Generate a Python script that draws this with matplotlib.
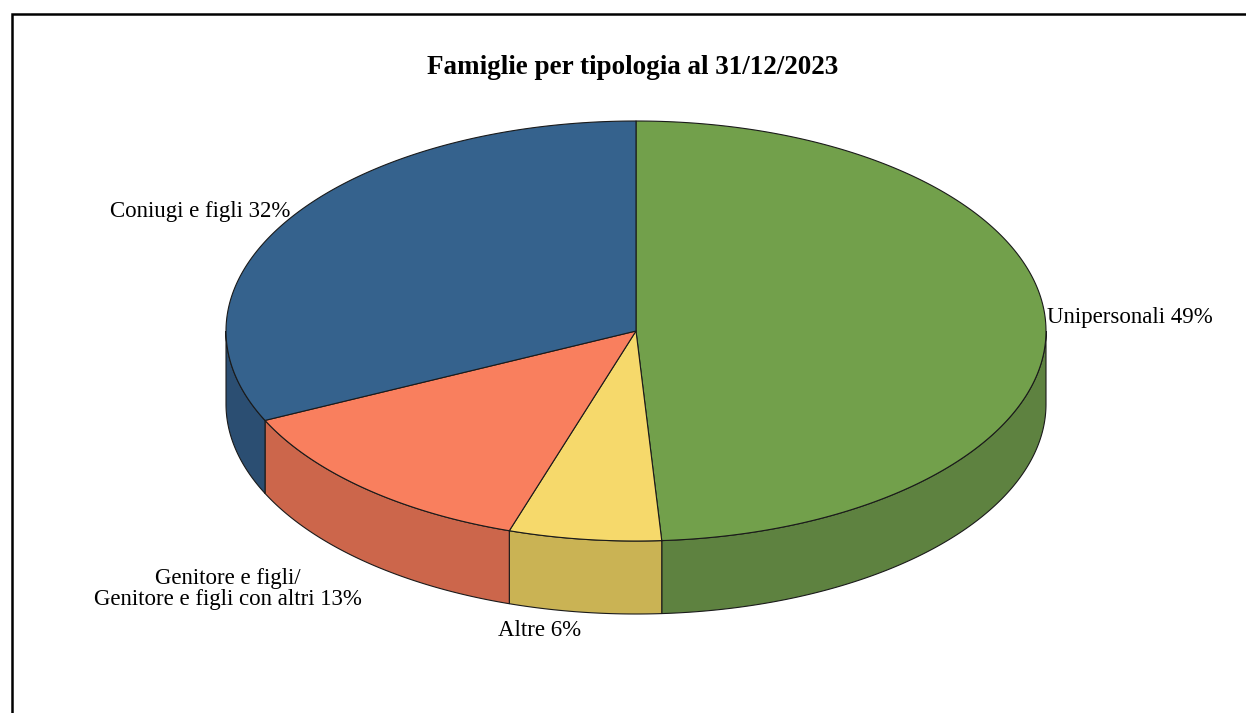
import numpy as np
import matplotlib
matplotlib.use("Agg")
import matplotlib.pyplot as plt
from matplotlib.patches import Polygon

# Household composition on 31/12/2023 (percent)
categories = ["Unipersonali", "Altre", "Genitore e figli/\nGenitore e figli con altri", "Coniugi e figli"]
values = [49, 6, 13, 32]
top_colors = ["#72A04B", "#F6D96B", "#F97F5E", "#35628D"]
side_colors = ["#5E8240", "#CAB354", "#CC664B", "#2B4E72"]
title = "Famiglie per tipologia al 31/12/2023"

W, H = 1246, 713
fig = plt.figure(figsize=(W / 100, H / 100), dpi=100)
ax = fig.add_axes([0, 0, 1, 1])
ax.set_xlim(0, W)
ax.set_ylim(H, 0)
ax.axis("off")

# pie geometry (pixels, y pointing down)
cx, cy = 636, 331
rx, ry = 410, 210
depth = 73
edge = "#1a1a1a"
lw = 0.8


def arc(t0, t1, n=200):
    t = np.radians(np.linspace(t0, t1, n))
    return cx + rx * np.cos(t), cy - ry * np.sin(t)


fracs = np.array(values, dtype=float) / sum(values)
start = 90.0
bounds = []
for f in fracs:
    end = start - f * 360.0
    bounds.append((start, end))
    start = end

# side walls: only the front half (angles between -180 and 0) is visible
for (a0, a1), sc in zip(bounds, side_colors):
    hi, lo = min(a0, 0.0), max(a1, -180.0)
    if hi <= lo:
        continue
    xs, ys = arc(hi, lo)
    pts = np.column_stack([np.r_[xs, xs[::-1]], np.r_[ys, ys[::-1] + depth]])
    ax.add_patch(Polygon(pts, closed=True, facecolor=sc, edgecolor=edge, linewidth=lw, zorder=2))

# top faces
for (a0, a1), tc in zip(bounds, top_colors):
    xs, ys = arc(a0, a1)
    pts = np.column_stack([np.r_[cx, xs], np.r_[cy, ys]])
    ax.add_patch(Polygon(pts, closed=True, facecolor=tc, edgecolor=edge, linewidth=lw, zorder=3,
                         joinstyle="round"))

font = "Liberation Serif"
fs = 16.5
labels = [f"{c} {v}%" for c, v in zip(categories, values)]
ax.text(1047, 318, labels[0], ha="left", va="center", fontsize=fs, family=font)
ax.text(540, 631, labels[1], ha="center", va="center", fontsize=fs, family=font)
ax.text(228, 589, labels[2], ha="center", va="center", fontsize=fs, family=font,
        multialignment="center", linespacing=1.0)
ax.text(290, 211, labels[3], ha="right", va="center", fontsize=fs, family=font)

ax.text(633, 67, title, ha="center", va="center", fontsize=19.5, fontweight="bold", family=font)

# chart frame
ax.plot([12, 12, W + 5], [H + 5, 14, 14], color="black", linewidth=1.8, solid_joinstyle="miter", zorder=5)

fig.savefig("out.png", dpi=100)
